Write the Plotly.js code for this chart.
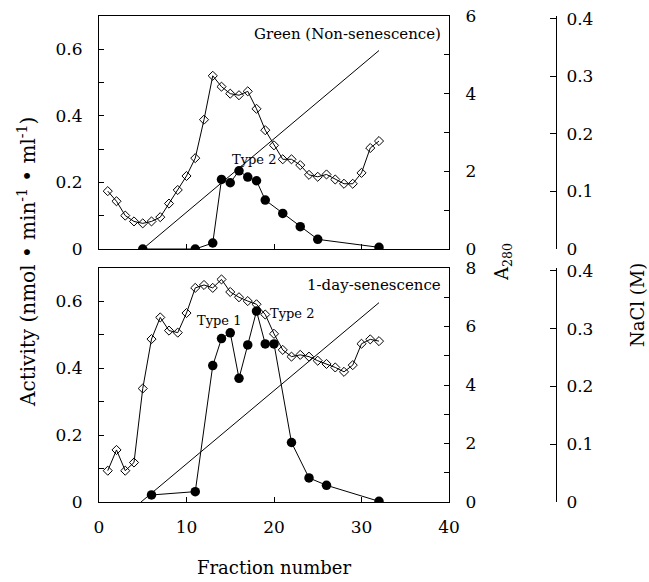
<!DOCTYPE html>
<html>
<head>
<meta charset="utf-8">
<script src="https://cdn.plot.ly/plotly-3.0.1.min.js"></script>
<style>html,body{margin:0;padding:0;background:#fff;}#chart{width:649px;height:582px;}</style>
</head>
<body>
<div id="chart"></div>
<script>
// ---- data ----
const fractions = [1,2,3,4,5,6,7,8,9,10,11,12,13,14,15,16,17,18,19,20,21,22,23,24,25,26,27,28,29,30,31,32];
const greenA280 = [1.49,1.23,0.86,0.71,0.66,0.71,0.82,1.17,1.52,1.88,2.34,3.33,4.46,4.18,4.0,3.96,4.06,3.61,3.06,2.67,2.31,2.31,2.16,1.91,1.86,1.92,1.79,1.68,1.68,1.96,2.6,2.78];
const greenActFrac = [5,11,13,14,15,16,17,18,19,21,23,25,32];
const greenAct = [0,0,0.018,0.209,0.199,0.235,0.216,0.205,0.147,0.107,0.067,0.029,0.005];
const greenNaClFrac = [5,32];
const greenNaCl = [0,0.345];

const senA280 = [1.07,1.78,1.07,1.35,3.88,5.57,6.31,5.86,5.79,6.46,7.32,7.42,7.32,7.61,7.18,7.0,6.87,6.76,6.41,5.75,5.2,4.97,5.03,4.97,4.83,4.72,4.6,4.45,4.68,5.41,5.56,5.5];
const senActFrac = [6,11,13,14,15,16,17,18,19,20,22,24,26,32];
const senAct = [0.021,0.031,0.408,0.489,0.506,0.37,0.47,0.571,0.473,0.473,0.178,0.072,0.05,0.002];
const senNaClFrac = [4.8,32];
const senNaCl = [0,0.345];

const xTickVals = [0,10,20,30,40];
const actTickVals = [0,0.2,0.4,0.6];
const greenA280TickVals = [0,2,4,6];
const senA280TickVals = [0,2,4,6,8];
const naclTickVals = [0,0.1,0.2,0.3,0.4];

// ---- styles ----
const FONT = 'DejaVu Serif';
const lineStyle = {color:'#000', width:1};
const diamond = {symbol:'diamond-open', size:7, color:'#000', line:{width:1,color:'#000'}};
const circle = {symbol:'circle', size:9.5, color:'#000'};

const traces = [
  {x:fractions, y:greenA280, xaxis:'x', yaxis:'y2', mode:'lines+markers', line:lineStyle, marker:diamond},
  {x:greenNaClFrac, y:greenNaCl, xaxis:'x', yaxis:'y3', mode:'lines', line:lineStyle},
  {x:greenActFrac, y:greenAct, xaxis:'x', yaxis:'y', mode:'lines+markers', line:lineStyle, marker:circle},
  {x:fractions, y:senA280, xaxis:'x2', yaxis:'y5', mode:'lines+markers', line:lineStyle, marker:diamond},
  {x:senNaClFrac, y:senNaCl, xaxis:'x2', yaxis:'y6', mode:'lines', line:lineStyle},
  {x:senActFrac, y:senAct, xaxis:'x2', yaxis:'y4', mode:'lines+markers', line:lineStyle, marker:circle}
];

const tickFont = {family:FONT, size:17, color:'#000'};
const baseAxis = {showgrid:false, zeroline:false, showline:true, linecolor:'#000', linewidth:1,
  ticks:'inside', ticklen:5, tickcolor:'#000', tickwidth:1, tickfont:tickFont};

const xDom = [0, 350/457];
const topDom = [253/486, 1];
const botDom = [0, 234/486];

const layout = {
  width:649, height:582,
  margin:{l:99, r:93, t:16, b:80},
  paper_bgcolor:'#fff', plot_bgcolor:'#fff',
  showlegend:false,
  font:{family:FONT, color:'#000'},
  xaxis:Object.assign({}, baseAxis, {domain:xDom, anchor:'y', range:[0,40], tickvals:xTickVals, showticklabels:false, mirror:true}),
  xaxis2:Object.assign({}, baseAxis, {domain:xDom, anchor:'y4', range:[0,40], tickvals:xTickVals, mirror:true, ticklabelstandoff:10}),
  yaxis:Object.assign({}, baseAxis, {domain:topDom, anchor:'x', range:[0,0.7], tickvals:actTickVals,
    minor:{dtick:0.1, tick0:0, ticks:'inside', ticklen:5, tickcolor:'#000'}, ticklabelstandoff:12}),
  yaxis2:Object.assign({}, baseAxis, {overlaying:'y', side:'right', anchor:'x', range:[0,6], tickvals:greenA280TickVals,
    minor:{dtick:1, tick0:0, ticks:'inside', ticklen:5, tickcolor:'#000'}, ticklabelstandoff:12}),
  yaxis3:Object.assign({}, baseAxis, {overlaying:'y', side:'right', anchor:'free', position:1, range:[0,0.405], tickvals:naclTickVals, ticklen:6, ticklabelstandoff:6}),
  yaxis4:Object.assign({}, baseAxis, {domain:botDom, anchor:'x2', range:[0,0.7], tickvals:actTickVals,
    minor:{dtick:0.1, tick0:0, ticks:'inside', ticklen:5, tickcolor:'#000'}, ticklabelstandoff:12}),
  yaxis5:Object.assign({}, baseAxis, {overlaying:'y4', side:'right', anchor:'x2', range:[0,8], tickvals:senA280TickVals,
    minor:{dtick:1, tick0:0, ticks:'inside', ticklen:5, tickcolor:'#000'}, ticklabelstandoff:12}),
  yaxis6:Object.assign({}, baseAxis, {overlaying:'y4', side:'right', anchor:'free', position:1, range:[0,0.405], tickvals:naclTickVals, ticklen:6, ticklabelstandoff:6}),
  annotations:[
    {text:'Green (Non-senescence)', xref:'x', yref:'y', x:39.3, y:0.646, xanchor:'right', yanchor:'middle', showarrow:false, font:{family:FONT, size:15, color:'#000'}},
    {text:'Type 2', xref:'x', yref:'y', x:17.7, y:0.268, xanchor:'center', yanchor:'middle', showarrow:false, font:{family:FONT, size:13, color:'#000'}},
    {text:'1-day-senescence', xref:'x2', yref:'y4', x:39.3, y:0.648, xanchor:'right', yanchor:'middle', showarrow:false, font:{family:FONT, size:15, color:'#000'}},
    {text:'Type 1', xref:'x2', yref:'y4', x:13.66, y:0.543, xanchor:'center', yanchor:'middle', showarrow:false, font:{family:FONT, size:13, color:'#000'}},
    {text:'Type 2', xref:'x2', yref:'y4', x:22.06, y:0.563, xanchor:'center', yanchor:'middle', showarrow:false, font:{family:FONT, size:13, color:'#000'}},
    {text:'Fraction number', xref:'x2', yref:'paper', x:20, y:-65/486, xanchor:'center', yanchor:'middle', showarrow:false, font:{family:FONT, size:18, color:'#000'}},
    {text:'Activity (nmol • min<sup>-1</sup> • ml<sup>-1</sup>)', xref:'paper', yref:'paper', x:-72/457, y:240/486, xanchor:'center', yanchor:'middle', textangle:-90, showarrow:false, font:{family:FONT, size:20, color:'#000'}},
    {text:'A<sub>280</sub>', xref:'paper', yref:'paper', x:404/457, y:240/486, xanchor:'center', yanchor:'middle', textangle:-90, showarrow:false, font:{family:FONT, size:18, color:'#000'}},
    {text:'NaCl (M)', xref:'paper', yref:'paper', x:538/457, y:197/486, xanchor:'center', yanchor:'middle', textangle:-90, showarrow:false, font:{family:FONT, size:18, color:'#000'}}
  ]
};

Plotly.newPlot('chart', traces, layout, {displayModeBar:false, staticPlot:true});
</script>
</body>
</html>
